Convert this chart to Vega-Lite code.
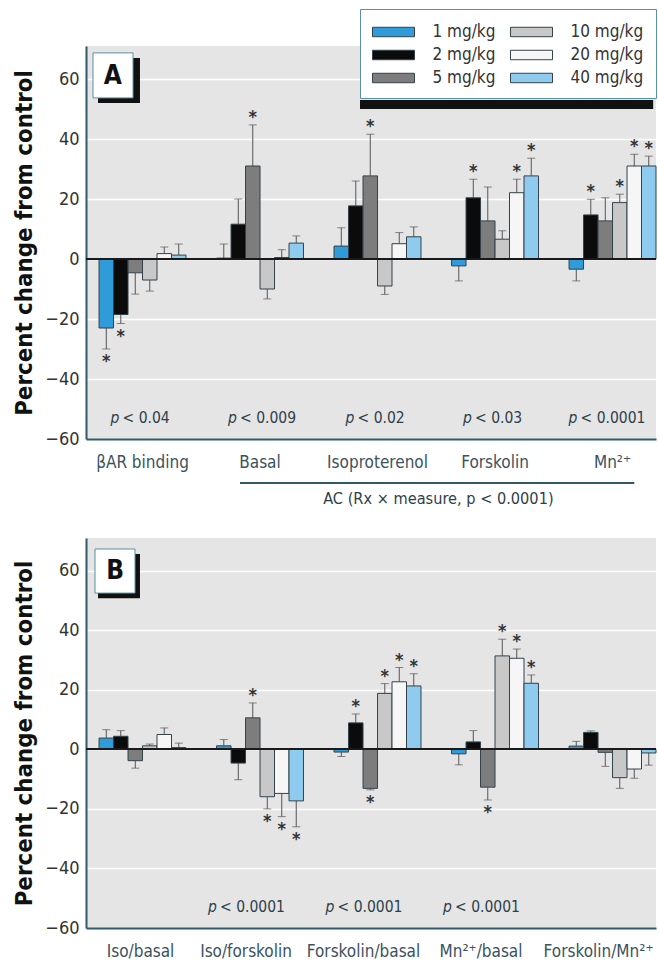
{
  "$schema": "https://vega.github.io/schema/vega-lite/v6.json",
  "background": "white",
  "padding": {"left": 12, "top": 8, "right": 0, "bottom": 4},
  "spacing": 30,
  "config": {
    "font": "DejaVu Sans Condensed, Liberation Sans, sans-serif",
    "view": {"fill": "#e5e5e5", "stroke": null},
    "axisY": {
      "grid": true, "gridColor": "#ffffff", "gridWidth": 1.5,
      "ticks": false, "domainColor": "#2f5a68", "domainWidth": 2,
      "labelFontSize": 18, "labelColor": "#333333", "labelPadding": 7,
      "titleFontSize": 23.8, "titleFontWeight": "bold", "titleColor": "#111111", "titlePadding": 8
    },
    "axisX": {
      "ticks": false, "grid": false, "domainColor": "#2f5a68", "domainWidth": 2,
      "labelAngle": 0, "labelFontSize": 17, "labelColor": "#3b5260", "labelPadding": 15
    },
    "text": {"font": "DejaVu Sans Condensed, Liberation Sans, sans-serif"}
  },
  "datasets": {
    "panelA": [
      {"measure": "βAR binding", "dose": "1 mg/kg", "value": -23, "err": -30, "star": true},
      {"measure": "βAR binding", "dose": "2 mg/kg", "value": -18.5, "err": -21.5, "star": true},
      {"measure": "βAR binding", "dose": "5 mg/kg", "value": -4.6, "err": -11.7, "star": false},
      {"measure": "βAR binding", "dose": "10 mg/kg", "value": -7, "err": -10.7, "star": false},
      {"measure": "βAR binding", "dose": "20 mg/kg", "value": 1.8, "err": 4, "star": false},
      {"measure": "βAR binding", "dose": "40 mg/kg", "value": 1.3, "err": 5, "star": false},
      {"measure": "Basal", "dose": "1 mg/kg", "value": 0.3, "err": 5, "star": false},
      {"measure": "Basal", "dose": "2 mg/kg", "value": 11.6, "err": 20, "star": false},
      {"measure": "Basal", "dose": "5 mg/kg", "value": 31, "err": 44.7, "star": true},
      {"measure": "Basal", "dose": "10 mg/kg", "value": -10, "err": -13.3, "star": false},
      {"measure": "Basal", "dose": "20 mg/kg", "value": 0.5, "err": 3.1, "star": false},
      {"measure": "Basal", "dose": "40 mg/kg", "value": 5.3, "err": 7.7, "star": false},
      {"measure": "Isoproterenol", "dose": "1 mg/kg", "value": 4.3, "err": 10.4, "star": false},
      {"measure": "Isoproterenol", "dose": "2 mg/kg", "value": 17.7, "err": 26, "star": false},
      {"measure": "Isoproterenol", "dose": "5 mg/kg", "value": 27.7, "err": 41.6, "star": true},
      {"measure": "Isoproterenol", "dose": "10 mg/kg", "value": -9, "err": -11.8, "star": false},
      {"measure": "Isoproterenol", "dose": "20 mg/kg", "value": 5.1, "err": 8.8, "star": false},
      {"measure": "Isoproterenol", "dose": "40 mg/kg", "value": 7.4, "err": 10.7, "star": false},
      {"measure": "Forskolin", "dose": "1 mg/kg", "value": -2.3, "err": -7.3, "star": false},
      {"measure": "Forskolin", "dose": "2 mg/kg", "value": 20.4, "err": 26.6, "star": true},
      {"measure": "Forskolin", "dose": "5 mg/kg", "value": 12.7, "err": 24, "star": false},
      {"measure": "Forskolin", "dose": "10 mg/kg", "value": 6.6, "err": 9.4, "star": false},
      {"measure": "Forskolin", "dose": "20 mg/kg", "value": 22.1, "err": 26.6, "star": true},
      {"measure": "Forskolin", "dose": "40 mg/kg", "value": 27.7, "err": 33.6, "star": true},
      {"measure": "Mn²⁺", "dose": "1 mg/kg", "value": -3.4, "err": -7.3, "star": false},
      {"measure": "Mn²⁺", "dose": "2 mg/kg", "value": 14.7, "err": 19.9, "star": true},
      {"measure": "Mn²⁺", "dose": "5 mg/kg", "value": 12.7, "err": 20.4, "star": false},
      {"measure": "Mn²⁺", "dose": "10 mg/kg", "value": 18.8, "err": 21.6, "star": true},
      {"measure": "Mn²⁺", "dose": "20 mg/kg", "value": 31, "err": 34.9, "star": true},
      {"measure": "Mn²⁺", "dose": "40 mg/kg", "value": 31, "err": 34.3, "star": true}
    ],
    "panelB": [
      {"measure": "Iso/basal", "dose": "1 mg/kg", "value": 3.8, "err": 6.6, "star": false},
      {"measure": "Iso/basal", "dose": "2 mg/kg", "value": 4.4, "err": 6.3, "star": false},
      {"measure": "Iso/basal", "dose": "5 mg/kg", "value": -3.8, "err": -6.3, "star": false},
      {"measure": "Iso/basal", "dose": "10 mg/kg", "value": 1.2, "err": 1.8, "star": false},
      {"measure": "Iso/basal", "dose": "20 mg/kg", "value": 5, "err": 7.2, "star": false},
      {"measure": "Iso/basal", "dose": "40 mg/kg", "value": 0.6, "err": 2.1, "star": false},
      {"measure": "Iso/forskolin", "dose": "1 mg/kg", "value": 1.2, "err": 3.3, "star": false},
      {"measure": "Iso/forskolin", "dose": "2 mg/kg", "value": -4.6, "err": -10.2, "star": false},
      {"measure": "Iso/forskolin", "dose": "5 mg/kg", "value": 10.6, "err": 15.6, "star": true},
      {"measure": "Iso/forskolin", "dose": "10 mg/kg", "value": -15.9, "err": -20, "star": true},
      {"measure": "Iso/forskolin", "dose": "20 mg/kg", "value": -14.8, "err": -22.6, "star": true},
      {"measure": "Iso/forskolin", "dose": "40 mg/kg", "value": -17.3, "err": -26, "star": true},
      {"measure": "Forskolin/basal", "dose": "1 mg/kg", "value": -0.9, "err": -2.4, "star": false},
      {"measure": "Forskolin/basal", "dose": "2 mg/kg", "value": 8.9, "err": 11.9, "star": true},
      {"measure": "Forskolin/basal", "dose": "5 mg/kg", "value": -13.1, "err": -13.6, "star": true},
      {"measure": "Forskolin/basal", "dose": "10 mg/kg", "value": 18.8, "err": 22.1, "star": true},
      {"measure": "Forskolin/basal", "dose": "20 mg/kg", "value": 22.7, "err": 27.5, "star": true},
      {"measure": "Forskolin/basal", "dose": "40 mg/kg", "value": 21.3, "err": 25.4, "star": true},
      {"measure": "Mn²⁺/basal", "dose": "1 mg/kg", "value": -1.5, "err": -5.2, "star": false},
      {"measure": "Mn²⁺/basal", "dose": "2 mg/kg", "value": 2.5, "err": 6.3, "star": false},
      {"measure": "Mn²⁺/basal", "dose": "5 mg/kg", "value": -12.7, "err": -17, "star": true},
      {"measure": "Mn²⁺/basal", "dose": "10 mg/kg", "value": 31.4, "err": 37, "star": true},
      {"measure": "Mn²⁺/basal", "dose": "20 mg/kg", "value": 30.6, "err": 33.7, "star": true},
      {"measure": "Mn²⁺/basal", "dose": "40 mg/kg", "value": 22.2, "err": 25, "star": true},
      {"measure": "Forskolin/Mn²⁺", "dose": "1 mg/kg", "value": 1.1, "err": 2.7, "star": false},
      {"measure": "Forskolin/Mn²⁺", "dose": "2 mg/kg", "value": 5.7, "err": 6.2, "star": false},
      {"measure": "Forskolin/Mn²⁺", "dose": "5 mg/kg", "value": -1, "err": -5.7, "star": false},
      {"measure": "Forskolin/Mn²⁺", "dose": "10 mg/kg", "value": -9.5, "err": -13.1, "star": false},
      {"measure": "Forskolin/Mn²⁺", "dose": "20 mg/kg", "value": -6.6, "err": -9.7, "star": false},
      {"measure": "Forskolin/Mn²⁺", "dose": "40 mg/kg", "value": -1.2, "err": -5.3, "star": false}
    ],
    "pA": [
      {"measure": "βAR binding", "p": "< 0.04"},
      {"measure": "Basal", "p": "< 0.009"},
      {"measure": "Isoproterenol", "p": "< 0.02"},
      {"measure": "Forskolin", "p": "< 0.03"},
      {"measure": "Mn²⁺", "p": "< 0.0001"}
    ],
    "pB": [
      {"measure": "Iso/forskolin", "p": "< 0.0001"},
      {"measure": "Forskolin/basal", "p": "< 0.0001"},
      {"measure": "Mn²⁺/basal", "p": "< 0.0001"}
    ],
    "bracketA": [
      {"from": "Basal", "to": "Mn²⁺", "anchor": "Isoproterenol", "label": "AC (Rx × measure, p < 0.0001)"}
    ]
  },
  "vconcat": [
    {
      "width": 570,
      "height": 393,
      "resolve": {"scale": {"x": "independent"}},
      "layer": [
        {
          "layer": [
            {
              "data": {"name": "panelA"},
              "mark": {"type": "rule", "color": "#555555", "strokeWidth": 1},
              "encoding": {
                "x": {"field": "measure", "type": "nominal",
                  "scale": {"domain": ["βAR binding", "Basal", "Isoproterenol", "Forskolin", "Mn²⁺"], "paddingInner": 0.26, "paddingOuter": 0.0555, "align": 1},
                  "axis": {"title": null}},
                "xOffset": {"field": "dose", "type": "nominal", "scale": {"domain": ["1 mg/kg", "2 mg/kg", "5 mg/kg", "10 mg/kg", "20 mg/kg", "40 mg/kg"], "paddingInner": 0, "paddingOuter": 0}},
                "y": {"field": "value", "type": "quantitative", "scale": {"domain": [-60, 71], "nice": false, "zero": false},
                  "axis": {"title": "Percent change from control", "values": [-60, -40, -20, 0, 20, 40, 60]}},
                "y2": {"field": "err"}
              }
            },
            {
              "data": {"name": "panelA"},
              "mark": {"type": "tick", "orient": "horizontal", "size": 8, "thickness": 1, "color": "#555555"},
              "encoding": {
                "x": {"field": "measure", "type": "nominal"},
                "xOffset": {"field": "dose", "type": "nominal"},
                "y": {"field": "err", "type": "quantitative"}
              }
            },
            {
              "data": {"name": "panelA"},
              "mark": {"type": "bar", "stroke": "#33434b", "strokeWidth": 1},
              "encoding": {
                "x": {"field": "measure", "type": "nominal"},
                "xOffset": {"field": "dose", "type": "nominal"},
                "y": {"field": "value", "type": "quantitative"},
                "color": {"field": "dose", "type": "nominal",
                  "scale": {"domain": ["1 mg/kg", "2 mg/kg", "5 mg/kg", "10 mg/kg", "20 mg/kg", "40 mg/kg"], "range": ["#2f9bd8", "#0b0b0b", "#7d7d7d", "#c8c8c8", "#f6f6f6", "#8fcbee"]},
                  "legend": {
                    "title": null, "orient": "none", "legendX": 274, "legendY": -37, "columns": 2,
                    "fillColor": "#ffffff", "strokeColor": "#5a8fa5", "padding": 12,
                    "symbolType": "M-2,-0.45L2,-0.45L2,0.45L-2,0.45Z", "symbolSize": 441, "symbolOffset": 10.5,
                    "symbolStrokeColor": "#33434b", "symbolStrokeWidth": 1, "symbolOpacity": 1,
                    "labelFontSize": 17, "labelColor": "#333333", "labelOffset": 28,
                    "rowPadding": 4, "columnPadding": 12
                  }}
              }
            },
            {
              "data": {"name": "panelA"},
              "mark": {"type": "rule", "color": "#1a1a1a", "strokeWidth": 1.5},
              "encoding": {"y": {"datum": 0}}
            },
            {
              "data": {"name": "panelA"},
              "transform": [{"filter": "datum.star && datum.value > 0"}],
              "mark": {"type": "text", "text": "*", "fontSize": 18, "fontWeight": "bold", "color": "#333333", "baseline": "middle", "dy": -7},
              "encoding": {
                "x": {"field": "measure", "type": "nominal"},
                "xOffset": {"field": "dose", "type": "nominal"},
                "y": {"field": "err", "type": "quantitative"}
              }
            },
            {
              "data": {"name": "panelA"},
              "transform": [{"filter": "datum.star && datum.value < 0"}],
              "mark": {"type": "text", "text": "*", "fontSize": 18, "fontWeight": "bold", "color": "#333333", "baseline": "middle", "dy": 13},
              "encoding": {
                "x": {"field": "measure", "type": "nominal"},
                "xOffset": {"field": "dose", "type": "nominal"},
                "y": {"field": "err", "type": "quantitative"}
              }
            },
            {
              "data": {"name": "pA"},
              "transform": [{"filter": "length(datum.p) < 8"}],
              "mark": {"type": "text", "text": "p", "fontStyle": "italic", "fontSize": 15.5, "color": "#2e3f4a", "align": "left", "dx": -32},
              "encoding": {"x": {"field": "measure", "type": "nominal"}, "y": {"datum": -53}}
            },
            {
              "data": {"name": "pA"},
              "transform": [{"filter": "length(datum.p) < 8"}],
              "mark": {"type": "text", "fontSize": 15.5, "color": "#2e3f4a", "align": "left", "dx": -20},
              "encoding": {"x": {"field": "measure", "type": "nominal"}, "y": {"datum": -53}, "text": {"field": "p"}}
            },
            {
              "data": {"name": "pA"},
              "transform": [{"filter": "length(datum.p) >= 8"}],
              "mark": {"type": "text", "text": "p", "fontStyle": "italic", "fontSize": 15.5, "color": "#2e3f4a", "align": "left", "dx": -44},
              "encoding": {"x": {"field": "measure", "type": "nominal"}, "y": {"datum": -53}}
            },
            {
              "data": {"name": "pA"},
              "transform": [{"filter": "length(datum.p) >= 8"}],
              "mark": {"type": "text", "fontSize": 15.5, "color": "#2e3f4a", "align": "left", "dx": -32},
              "encoding": {"x": {"field": "measure", "type": "nominal"}, "y": {"datum": -53}, "text": {"field": "p"}}
            },
            {
              "data": {"name": "bracketA"},
              "mark": {"type": "rule", "color": "#2f5a68", "strokeWidth": 2},
              "encoding": {
                "x": {"field": "from", "type": "nominal", "bandPosition": 0.27},
                "x2": {"field": "to", "bandPosition": 0.75},
                "y": {"datum": -74.7}
              }
            },
            {
              "data": {"name": "bracketA"},
              "mark": {"type": "text", "fontSize": 16.2, "color": "#2e3f4a", "align": "center", "baseline": "middle"},
              "encoding": {
                "x": {"field": "anchor", "type": "nominal", "bandPosition": 1.2},
                "y": {"datum": -80},
                "text": {"field": "label"}
              }
            }
          ]
        },
        {
          "data": {"values": [{"panel": "A"}]},
          "layer": [
            {
              "mark": {"type": "rect", "color": "#111111"},
              "encoding": {
                "x": {"datum": 0.4807, "type": "quantitative", "scale": {"domain": [0, 1]}, "axis": null},
                "x2": {"datum": 0.995},
                "y": {"datum": 50},
                "y2": {"datum": 53}
              }
            },
            {
              "mark": {"type": "rect", "color": "#111111"},
              "encoding": {
                "x": {"datum": 0.0211, "type": "quantitative"},
                "x2": {"datum": 0.0947},
                "y": {"datum": 67},
                "y2": {"datum": 52}
              }
            },
            {
              "mark": {"type": "rect", "fill": "#ffffff", "stroke": "#5a8fa5", "strokeWidth": 1},
              "encoding": {
                "x": {"datum": 0.0123, "type": "quantitative"},
                "x2": {"datum": 0.0825},
                "y": {"datum": 68.7},
                "y2": {"datum": 53.7}
              }
            },
            {
              "mark": {"type": "text", "fontSize": 26, "fontWeight": "bold", "color": "#111111", "baseline": "middle", "align": "center"},
              "encoding": {
                "x": {"datum": 0.047, "type": "quantitative"},
                "y": {"datum": 61},
                "text": {"field": "panel"}
              }
            }
          ]
        }
      ]
    },
    {
      "width": 570,
      "height": 390,
      "resolve": {"scale": {"x": "independent"}},
      "layer": [
        {
          "layer": [
            {
              "data": {"name": "panelB"},
              "mark": {"type": "rule", "color": "#555555", "strokeWidth": 1},
              "encoding": {
                "x": {"field": "measure", "type": "nominal",
                  "scale": {"domain": ["Iso/basal", "Iso/forskolin", "Forskolin/basal", "Mn²⁺/basal", "Forskolin/Mn²⁺"], "paddingInner": 0.26, "paddingOuter": 0.0555, "align": 1},
                  "axis": {"title": null, "labelOffset": {"condition": {"test": "datum.value === 'Iso/basal'", "value": -2}, "value": -14}}},
                "xOffset": {"field": "dose", "type": "nominal", "scale": {"domain": ["1 mg/kg", "2 mg/kg", "5 mg/kg", "10 mg/kg", "20 mg/kg", "40 mg/kg"], "paddingInner": 0, "paddingOuter": 0}},
                "y": {"field": "value", "type": "quantitative", "scale": {"domain": [-60, 71], "nice": false, "zero": false},
                  "axis": {"title": "Percent change from control", "values": [-60, -40, -20, 0, 20, 40, 60]}},
                "y2": {"field": "err"}
              }
            },
            {
              "data": {"name": "panelB"},
              "mark": {"type": "tick", "orient": "horizontal", "size": 8, "thickness": 1, "color": "#555555"},
              "encoding": {
                "x": {"field": "measure", "type": "nominal"},
                "xOffset": {"field": "dose", "type": "nominal"},
                "y": {"field": "err", "type": "quantitative"}
              }
            },
            {
              "data": {"name": "panelB"},
              "mark": {"type": "bar", "stroke": "#33434b", "strokeWidth": 1},
              "encoding": {
                "x": {"field": "measure", "type": "nominal"},
                "xOffset": {"field": "dose", "type": "nominal"},
                "y": {"field": "value", "type": "quantitative"},
                "color": {"field": "dose", "type": "nominal",
                  "scale": {"domain": ["1 mg/kg", "2 mg/kg", "5 mg/kg", "10 mg/kg", "20 mg/kg", "40 mg/kg"], "range": ["#2f9bd8", "#0b0b0b", "#7d7d7d", "#c8c8c8", "#f6f6f6", "#8fcbee"]},
                  "legend": null}
              }
            },
            {
              "data": {"name": "panelB"},
              "mark": {"type": "rule", "color": "#1a1a1a", "strokeWidth": 1.5},
              "encoding": {"y": {"datum": 0}}
            },
            {
              "data": {"name": "panelB"},
              "transform": [{"filter": "datum.star && datum.value > 0"}],
              "mark": {"type": "text", "text": "*", "fontSize": 18, "fontWeight": "bold", "color": "#333333", "baseline": "middle", "dy": -7},
              "encoding": {
                "x": {"field": "measure", "type": "nominal"},
                "xOffset": {"field": "dose", "type": "nominal"},
                "y": {"field": "err", "type": "quantitative"}
              }
            },
            {
              "data": {"name": "panelB"},
              "transform": [{"filter": "datum.star && datum.value < 0"}],
              "mark": {"type": "text", "text": "*", "fontSize": 18, "fontWeight": "bold", "color": "#333333", "baseline": "middle", "dy": 13},
              "encoding": {
                "x": {"field": "measure", "type": "nominal"},
                "xOffset": {"field": "dose", "type": "nominal"},
                "y": {"field": "err", "type": "quantitative"}
              }
            },
            {
              "data": {"name": "pB"},
              "mark": {"type": "text", "text": "p", "fontStyle": "italic", "fontSize": 15.5, "color": "#2e3f4a", "align": "left", "dx": -52},
              "encoding": {"x": {"field": "measure", "type": "nominal"}, "y": {"datum": -53}}
            },
            {
              "data": {"name": "pB"},
              "mark": {"type": "text", "fontSize": 15.5, "color": "#2e3f4a", "align": "left", "dx": -40},
              "encoding": {"x": {"field": "measure", "type": "nominal"}, "y": {"datum": -53}, "text": {"field": "p"}}
            }
          ]
        },
        {
          "data": {"values": [{"panel": "B"}]},
          "layer": [
            {
              "mark": {"type": "rect", "color": "#111111"},
              "encoding": {
                "x": {"datum": 0.0211, "type": "quantitative", "scale": {"domain": [0, 1]}, "axis": null},
                "x2": {"datum": 0.0947},
                "y": {"datum": 65.6},
                "y2": {"datum": 50.8}
              }
            },
            {
              "mark": {"type": "rect", "fill": "#ffffff", "stroke": "#5a8fa5", "strokeWidth": 1},
              "encoding": {
                "x": {"datum": 0.0158, "type": "quantitative"},
                "x2": {"datum": 0.0860},
                "y": {"datum": 67.3},
                "y2": {"datum": 52.5}
              }
            },
            {
              "mark": {"type": "text", "fontSize": 26, "fontWeight": "bold", "color": "#111111", "baseline": "middle", "align": "center"},
              "encoding": {
                "x": {"datum": 0.051, "type": "quantitative"},
                "y": {"datum": 59.9},
                "text": {"field": "panel"}
              }
            }
          ]
        }
      ]
    }
  ],
  "resolve": {"scale": {"color": "independent"}}
}
